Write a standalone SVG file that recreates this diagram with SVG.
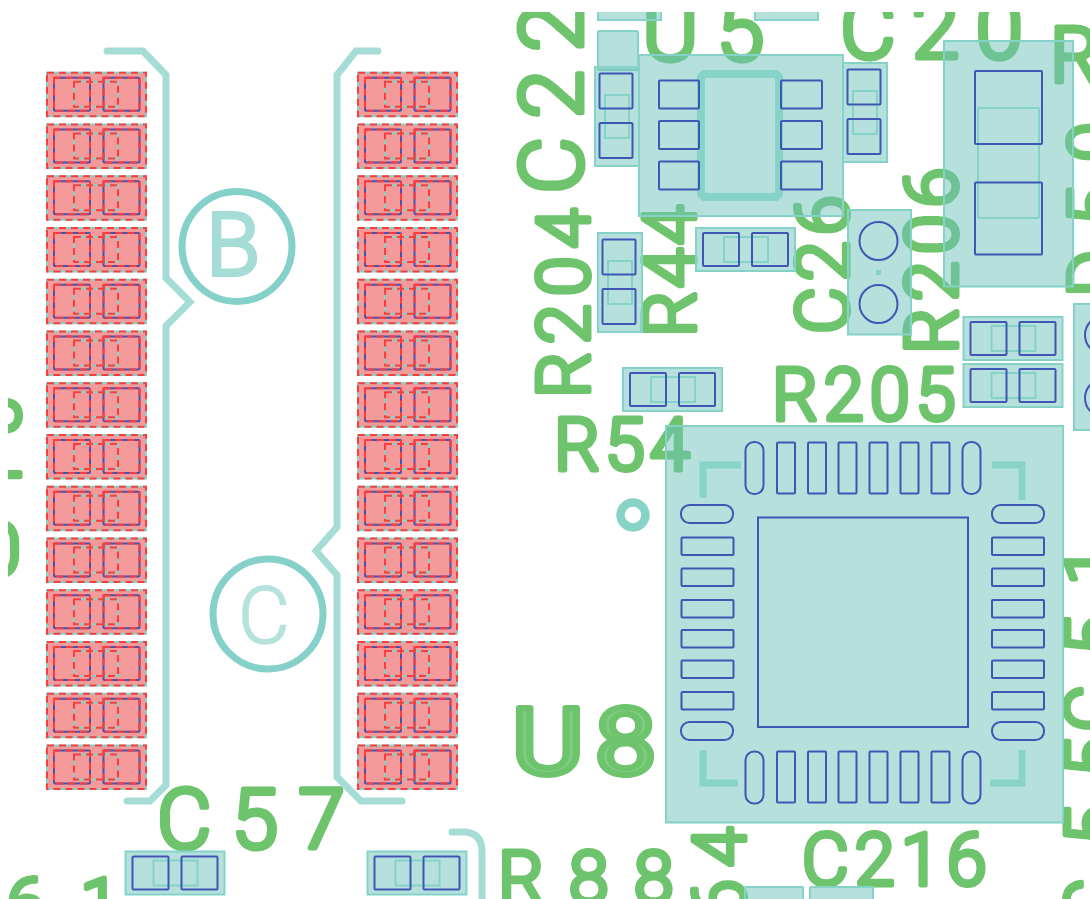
<svg xmlns="http://www.w3.org/2000/svg" xmlns:xlink="http://www.w3.org/1999/xlink" width="1090" height="899" viewBox="0 0 1090 899">
<style>
.t{font-family:Roboto,"Liberation Sans",sans-serif;font-weight:300;fill:#80cc82;stroke:#6ec46c;stroke-width:5;stroke-linejoin:round;stroke-linecap:round;stroke-dasharray:5 1}
.c{fill:#6bc1b9;fill-opacity:.5;stroke:#85d2c8;stroke-opacity:1;stroke-width:2}
.i{fill:none;stroke:#85d2c8;stroke-width:2}
.p{fill:none;stroke:#3f56b5;stroke-width:2}
.s{fill:none;stroke:#a5dcd6;stroke-width:7;stroke-linecap:round;stroke-linejoin:miter}
.m{fill:none;stroke:#88d3c8;stroke-width:7;stroke-linejoin:miter}
.d{fill:none;stroke:#ff3b3b;stroke-width:2;stroke-dasharray:7 5}
</style>
<defs>
<clipPath id="view"><rect x="8" y="12" width="1082" height="887"/></clipPath>
<g id="h0402">
<rect class="c" x="0" y="0" width="99" height="43"/>
<rect class="i" x="28" y="9" width="44" height="25"/>
<rect class="p" x="7" y="5" width="36" height="33" rx="1"/>
<rect class="p" x="56" y="5" width="36" height="33" rx="1"/>
</g>
<g id="v0402">
<rect class="c" x="0" y="0" width="44" height="99"/>
<rect class="i" x="10" y="28" width="24" height="43"/>
<rect class="p" x="4.500" y="6.500" width="33" height="35" rx="1"/>
<rect class="p" x="4.500" y="56" width="33" height="35" rx="1"/>
</g>
<g id="row">
<rect x="0" y="0" width="99" height="43.500" fill="#f59a9a" stroke="#85d2c8" stroke-width="2"/>
<rect class="i" x="27" y="9" width="44" height="25"/>
<rect class="p" x="7" y="5" width="36" height="33" rx="1"/>
<rect class="p" x="56.500" y="5" width="36" height="33" rx="1"/>
<rect class="d" x="0" y="0" width="99" height="43.500"/>
<rect class="d" x="27" y="9" width="44" height="25"/>
<rect class="d" x="7" y="5" width="36" height="33"/>
<rect class="d" x="56.500" y="5" width="36" height="33"/>
</g>
<rect id="tv" class="p" width="18" height="51" rx="1"/>
<rect id="tr" class="p" width="18" height="52" rx="8.500"/>
<rect id="lh" class="p" width="52" height="17.500" rx="1"/>
<rect id="lr" class="p" width="52" height="18" rx="8.500"/>
</defs>
<rect x="0" y="0" width="1090" height="899" fill="#ffffff"/>
<g clip-path="url(#view)">
<g id="silk-labels">
<text class="t" font-size="88" transform="translate(582,194) rotate(-90)" letter-spacing="18">C22</text>
<text class="t" font-size="86" x="642" y="60" letter-spacing="18">U5</text>
<text class="t" font-size="86" x="840" y="58" letter-spacing="16">C20</text>
<text class="t" font-size="78" x="1050" y="82">R</text>
<text class="t" font-size="72" transform="translate(589,398) rotate(-90)" letter-spacing="8">R204</text>
<text class="t" font-size="72" transform="translate(695,337) rotate(-90)" letter-spacing="3">R44</text>
<text class="t" font-size="72" transform="translate(848,334) rotate(-90)" letter-spacing="6">C26</text>
<text class="t" font-size="72" transform="translate(957,354) rotate(-90)" letter-spacing="7">R206</text>
<text class="t" font-size="72" transform="translate(1120,297) rotate(-90)" letter-spacing="24">D50</text>
<text class="t" font-size="72" x="772" y="420" letter-spacing="6">R205</text>
<text class="t" font-size="72" x="554" y="470" letter-spacing="5">R54</text>
<text class="t" font-size="92" transform="translate(512,774) scale(1.2,1)" style="font-weight:400;stroke-width:6" letter-spacing="9">U8</text>
<text class="t" font-size="84" x="157" y="848" letter-spacing="20">C57</text>
<text class="t" font-size="72" x="802" y="885" letter-spacing="6">C216</text>
<text class="t" font-size="72" x="498" y="903" letter-spacing="25">R88</text>
<text class="t" font-size="72" transform="translate(745,919) rotate(-90)" letter-spacing="12">64</text>
<text class="t" font-size="72" x="6" y="930" letter-spacing="34">61</text>
<text class="t" font-size="72" transform="translate(1117,732) rotate(-90)" letter-spacing="30">C51</text>
<text class="t" font-size="72" transform="translate(1117,845) rotate(-90)" letter-spacing="28">55</text>
<text class="t" font-size="72" transform="translate(1117,925) rotate(-90)">C</text>
<text class="t" font-size="72" transform="translate(20,497) rotate(-90)" letter-spacing="20">15</text>
<text class="t" font-size="72" x="-19" y="575">0</text>
</g>
<g id="silk-outlines">
<path class="s" d="M107,51H143L166,75V278L190,302L166,326V785L150,801H127"/>
<path class="s" d="M378,51H356L337,75V527L316,551L337,575V777L361,801H402"/>
<path class="s" d="M452,832H466Q482,834 482,852V905"/>
<circle cx="237" cy="246.500" r="55" fill="none" stroke="#85d0c8" stroke-width="7"/>
<circle cx="268" cy="614" r="55" fill="none" stroke="#85d0c8" stroke-width="7"/>
<text x="206" y="275" font-size="88" style="font-family:Roboto,'Liberation Sans',sans-serif;font-weight:300;fill:#a5dcd6;stroke:#a5dcd6;stroke-width:4">B</text>
<text x="238" y="643" font-size="80" style="font-family:Roboto,'Liberation Sans',sans-serif;font-weight:300;fill:#b5e2dd;stroke:#b5e2dd;stroke-width:1.500">C</text>
<circle cx="633" cy="515" r="12.500" fill="none" stroke="#88d3c8" stroke-width="8.500"/>
</g>
<g id="left-row">
<use href="#row" x="47" y="72.700"/><use href="#row" x="47" y="124.500"/><use href="#row" x="47" y="176.200"/><use href="#row" x="47" y="228"/><use href="#row" x="47" y="279.700"/><use href="#row" x="47" y="331.500"/><use href="#row" x="47" y="383.200"/><use href="#row" x="47" y="435"/><use href="#row" x="47" y="486.700"/><use href="#row" x="47" y="538.500"/><use href="#row" x="47" y="590.200"/><use href="#row" x="47" y="642"/><use href="#row" x="47" y="693.700"/><use href="#row" x="47" y="745.500"/>
</g>
<g id="right-row">
<use href="#row" x="358" y="72.700"/><use href="#row" x="358" y="124.500"/><use href="#row" x="358" y="176.200"/><use href="#row" x="358" y="228"/><use href="#row" x="358" y="279.700"/><use href="#row" x="358" y="331.500"/><use href="#row" x="358" y="383.200"/><use href="#row" x="358" y="435"/><use href="#row" x="358" y="486.700"/><use href="#row" x="358" y="538.500"/><use href="#row" x="358" y="590.200"/><use href="#row" x="358" y="642"/><use href="#row" x="358" y="693.700"/><use href="#row" x="358" y="745.500"/>
</g>
<g id="top-parts">
<rect class="c" x="598" y="0" width="63" height="20"/>
<rect class="c" x="755" y="0" width="63" height="20"/>
<rect class="c" x="598" y="31" width="40" height="39" rx="1"/>
</g>
<g id="U5">
<rect class="c" x="639" y="55" width="204" height="161"/>
<path d="M704,74H776L779,77V194L776,197H704L701,194V77Z" fill="none" stroke="#88d3c8" stroke-width="8"/>
<rect class="p" x="659" y="80.500" width="40" height="28" rx="1"/>
<rect class="p" x="659" y="121" width="40" height="28" rx="1"/>
<rect class="p" x="659" y="161.500" width="40" height="28" rx="1"/>
<rect class="p" x="781" y="80.500" width="41" height="28" rx="1"/>
<rect class="p" x="781" y="121" width="41" height="28" rx="1"/>
<rect class="p" x="781" y="161.500" width="41" height="28" rx="1"/>
</g>
<g id="caps">
<use href="#v0402" x="595" y="67"/>
<use href="#v0402" x="843" y="63"/>
<use href="#v0402" x="598" y="233"/>
<use href="#h0402" x="696" y="228"/>
<use href="#h0402" x="623" y="368"/>
<use href="#h0402" x="963.500" y="317"/>
<use href="#h0402" x="963.500" y="364"/>
<use href="#h0402" x="125.500" y="851.500"/>
<use href="#h0402" x="367.500" y="851.500"/>
</g>
<g id="big-part">
<rect class="c" x="944" y="41" width="129" height="245.500"/>
<rect class="i" x="978" y="108" width="61" height="110" rx="1"/>
<rect class="p" x="975" y="71" width="67" height="73" rx="1"/>
<rect class="p" x="975" y="182.500" width="67" height="72" rx="1"/>
</g>
<g id="C26">
<rect class="c" x="848" y="210" width="63" height="124.500"/>
<circle class="p" cx="878.500" cy="241" r="19"/>
<circle class="p" cx="878.500" cy="304" r="19"/>
<rect x="876" y="270" width="5" height="5" fill="#85d2c8"/>
</g>
<g id="right-edge">
<rect class="c" x="1074" y="304" width="40" height="126"/>
<circle class="p" cx="1104" cy="335" r="19"/>
<circle class="p" cx="1104" cy="398" r="19"/>
</g>
<g id="bottom-parts">
<rect class="c" x="745" y="887" width="58" height="30" rx="1"/>
<rect class="c" x="810" y="887" width="63" height="30" rx="1"/>
</g>
<g id="U8">
<rect class="c" x="666" y="426" width="397" height="396.500"/>
<rect class="p" x="758" y="517.500" width="210" height="209.500"/>
<path class="m" d="M703,498V465H741M992,465H1022V500M703,750V783H738M1022,750V783H990"/>
<use href="#tr" x="745.500" y="442"/><use href="#tv" x="777" y="442.500"/><use href="#tv" x="808" y="442.500"/><use href="#tv" x="838.500" y="442.500"/><use href="#tv" x="869.500" y="442.500"/><use href="#tv" x="900.500" y="442.500"/><use href="#tv" x="931.500" y="442.500"/><use href="#tr" x="962.500" y="442"/>
<use href="#tr" x="745.500" y="751.500"/><use href="#tv" x="777" y="751.500"/><use href="#tv" x="808" y="751.500"/><use href="#tv" x="838.500" y="751.500"/><use href="#tv" x="869.500" y="751.500"/><use href="#tv" x="900.500" y="751.500"/><use href="#tv" x="931.500" y="751.500"/><use href="#tr" x="962.500" y="751.500"/>
<use href="#lr" x="681" y="505"/><use href="#lh" x="681.500" y="537.500"/><use href="#lh" x="681.500" y="568.500"/><use href="#lh" x="681.500" y="600"/><use href="#lh" x="681.500" y="630"/><use href="#lh" x="681.500" y="660.500"/><use href="#lh" x="681.500" y="692"/><use href="#lr" x="681" y="722"/>
<use href="#lr" x="992" y="505"/><use href="#lh" x="992" y="537.500"/><use href="#lh" x="992" y="568.500"/><use href="#lh" x="992" y="600"/><use href="#lh" x="992" y="630"/><use href="#lh" x="992" y="660.500"/><use href="#lh" x="992" y="692"/><use href="#lr" x="992" y="722"/>
</g>
</g>
</svg>
